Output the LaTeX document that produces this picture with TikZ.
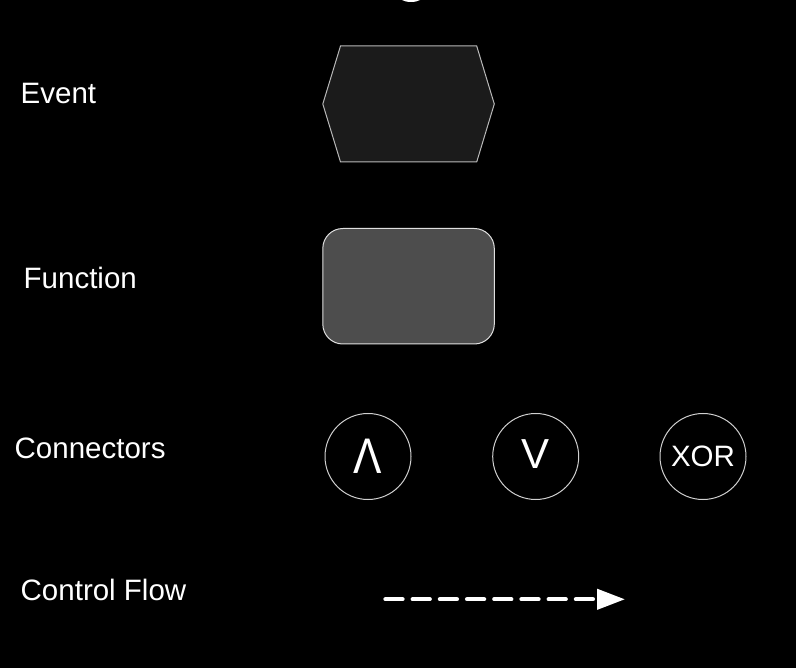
\documentclass[tikz,border=0pt]{standalone}
\usepackage{fontspec}
\setmainfont{Liberation Sans}
\usetikzlibrary{arrows.meta}
\definecolor{evfill}{HTML}{1B1B1B}
\definecolor{evline}{HTML}{B8B8B8}
\definecolor{fnfill}{HTML}{4D4D4D}
\definecolor{fnline}{HTML}{E0E0E0}
\definecolor{cnline}{HTML}{D0D0D0}
\tikzset{
  lbl/.style={anchor=base west, inner sep=0pt, text=white, font=\fontsize{29.5}{31}\selectfont},
  sym/.style={anchor=base, inner sep=0pt, text=white},
  conn/.style={circle, draw=cnline, line width=1pt, minimum size=86pt, inner sep=0pt},
  flow/.style={draw=white, line width=4.3pt, line cap=round, dash pattern=on 17pt off 10.2pt, -{Triangle[length=28pt,width=20pt]}}
}
\begin{document}
\begin{tikzpicture}[x=1pt,y=-1pt]
\fill[black] (0,0) rectangle (796,668);
\useasboundingbox (0,0) rectangle (796,668);
% partial shape at top edge
\fill[white] (411,-6) ellipse [x radius=14, y radius=8];
% Event
\node[lbl] (tev) at (20.5,103.3) {Event};
\draw[fill=evfill, draw=evline, line width=1pt] (340.5,46) -- (476.7,46) -- (494.3,104) -- (476.7,162) -- (340.5,162) -- (322.8,104) -- cycle;
% Function
\node[lbl] (tfn) at (23.5,288.3) {Function};
\draw[fill=fnfill, draw=fnline, line width=1pt, rounded corners=20pt] (322.8,228.5) rectangle (494.3,344);
% Connectors
\node[lbl] (tcn) at (14.5,458.3) {Connectors};
\node[conn] (c1) at (368,456.5) {};
\node[conn] (c2) at (535.7,456.5) {};
\node[conn] (c3) at (703,456.5) {};
\node[sym, font=\fontsize{50}{50}\selectfont] (and) at (368,474) {\scalebox{0.85}[1]{Λ}};
\node[sym, font=\fontsize{42}{42}\selectfont] (or) at (535.7,468) {V};
\node[sym, font=\fontsize{29.5}{31}\selectfont] (xor) at (703,466.7) {XOR};
% Control Flow
\node[lbl] (tcf) at (20.5,600) {Control Flow};
\coordinate (fs) at (385.5,599.3);
\coordinate (fe) at (625,599.3);
\draw[flow] (fs) -- (fe);
\end{tikzpicture}
\end{document}
